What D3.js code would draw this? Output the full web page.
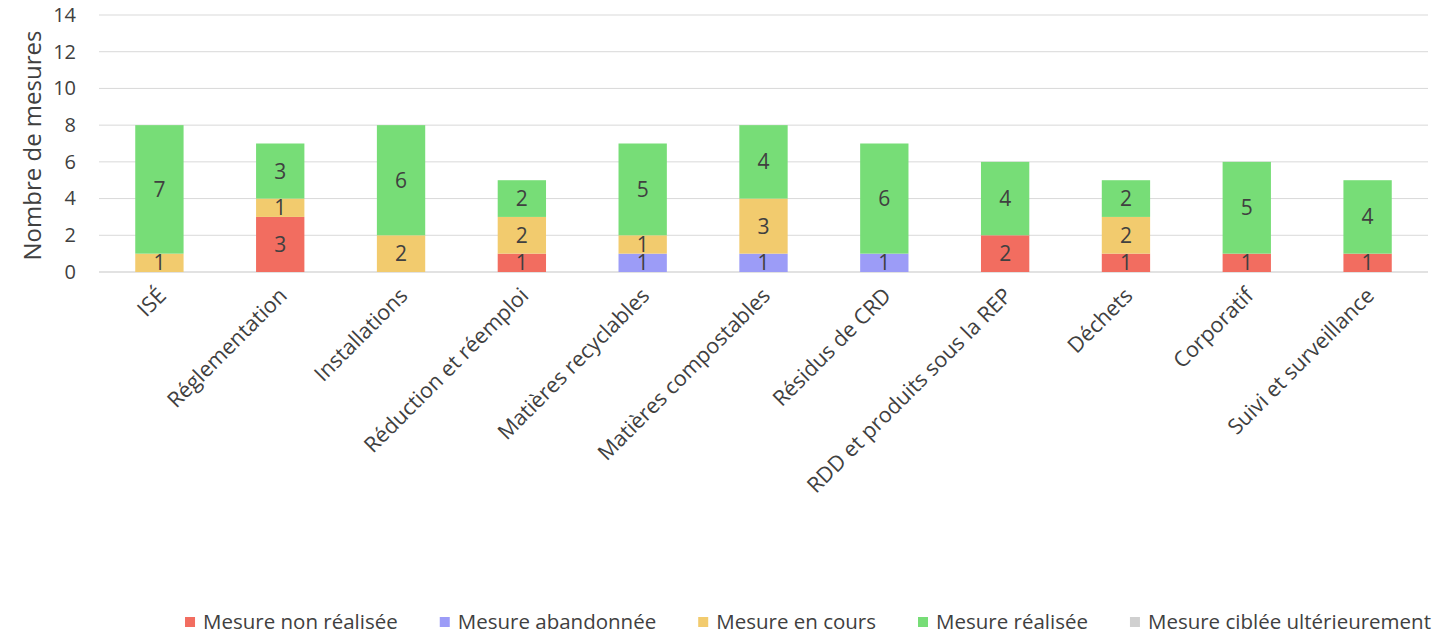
<!DOCTYPE html>
<html lang="fr">
<head>
<meta charset="UTF-8" />
<script src="https://d3js.org/d3.v7.min.js"></script>
<title>Mesures</title>
<style>
  body { margin: 0; background: #fff; }
  text { font-family: "Open Sans", sans-serif; fill: #404040; }
</style>
</head>
<body>
<script>
  const width = 1448, height = 635

  // données
  const categories = ['ISÉ', 'Réglementation', 'Installations', 'Réduction et réemploi',
    'Matières recyclables', 'Matières compostables', 'Résidus de CRD',
    'RDD et produits sous la REP', 'Déchets', 'Corporatif', 'Suivi et surveillance']
  const seriesNames = ['Mesure non réalisée', 'Mesure abandonnée', 'Mesure en cours',
    'Mesure réalisée', 'Mesure ciblée ultérieurement']
  const nonRealisee = [0, 3, 0, 1, 0, 0, 0, 2, 1, 1, 1]
  const abandonnee  = [0, 0, 0, 0, 1, 1, 1, 0, 0, 0, 0]
  const enCours     = [1, 1, 2, 2, 1, 3, 0, 0, 2, 0, 0]
  const realisee    = [7, 3, 6, 2, 5, 4, 6, 4, 2, 5, 4]
  const ulterieur   = [0, 0, 0, 0, 0, 0, 0, 0, 0, 0, 0]
  const yTicks = [0, 2, 4, 6, 8, 10, 12, 14]
  const colors = ['#F26D60', '#9C9CF7', '#F2CB6E', '#77DD77', '#D0D0D0']

  const seriesValues = [nonRealisee, abandonnee, enCours, realisee, ulterieur]
  const table = categories.map((c, i) => {
    const row = { cat: c }
    seriesNames.forEach((s, j) => row[s] = seriesValues[j][i])
    return row
  })
  const stacked = d3.stack().keys(seriesNames)(table)

  const svg = d3.select('body').append('svg').attr('width', width).attr('height', height)

  const x = d3.scaleBand().domain(categories).range([99, 1428]).paddingInner(0.6).paddingOuter(0.3)
  const y = d3.scaleLinear().domain([0, 14]).range([272, 15])

  // grille
  svg.append('g').selectAll('line').data(yTicks).enter().append('line')
    .attr('x1', 99).attr('x2', 1428)
    .attr('y1', d => y(d)).attr('y2', d => y(d))
    .attr('stroke', '#d9d9d9').attr('stroke-width', d => d === 0 ? 1.5 : 1)

  // axe y
  const yAxis = svg.append('g').attr('transform', 'translate(99,0)')
    .call(d3.axisLeft(y).tickValues(yTicks).tickSize(0).tickPadding(23))
  yAxis.select('.domain').remove()
  yAxis.selectAll('text').style('font-size', '20px').attr('fill', '#595959')
    .style('font-family', '"Open Sans", sans-serif')

  svg.append('text')
    .attr('transform', 'translate(41,' + (y(7) + 2) + ') rotate(-90)')
    .attr('text-anchor', 'middle')
    .style('font-size', '24px').attr('fill', '#595959')
    .text('Nombre de mesures')

  // barres
  const layer = svg.append('g').selectAll('g').data(stacked).enter().append('g')
    .attr('fill', (d, i) => colors[i])
  layer.selectAll('rect').data(d => d).enter().append('rect')
    .attr('x', d => x(d.data.cat))
    .attr('width', x.bandwidth())
    .attr('y', d => y(d[1]))
    .attr('height', d => y(d[0]) - y(d[1]))

  // étiquettes
  const lab = svg.append('g').selectAll('g').data(stacked).enter().append('g')
  lab.selectAll('text').data(d => d.filter(v => v[1] - v[0] > 0)).enter().append('text')
    .attr('x', d => x(d.data.cat) + x.bandwidth() / 2)
    .attr('y', d => y((d[0] + d[1]) / 2))
    .attr('dy', '0.36em')
    .attr('text-anchor', 'middle')
    .style('font-size', '21px')
    .text(d => d[1] - d[0])

  // axe x
  svg.append('g').selectAll('text').data(categories).enter().append('text')
    .attr('transform', d => 'translate(' + (x(d) + x.bandwidth() / 2 + 8) + ',297) rotate(-45)')
    .attr('text-anchor', 'end')
    .style('font-size', '21.5px').attr('fill', '#595959')
    .text(d => d)

  // légende
  const leg = svg.append('g').attr('transform', 'translate(0,622)')
  const items = leg.selectAll('g').data(seriesNames).enter().append('g')
  items.append('rect').attr('width', 10).attr('height', 10).attr('y', -5)
    .attr('fill', (d, i) => colors[i])
  items.append('text').attr('x', 18).attr('dy', '0.35em')
    .style('font-size', '20.5px').attr('fill', '#595959').text(d => d)
  let pos = 0
  const offsets = []
  items.each(function () {
    offsets.push(pos)
    pos += this.getBBox().width + 42
  })
  const total = pos - 42
  const start = 808 - total / 2
  items.attr('transform', (d, i) => 'translate(' + (start + offsets[i]) + ',0)')
</script>
</body>
</html>
